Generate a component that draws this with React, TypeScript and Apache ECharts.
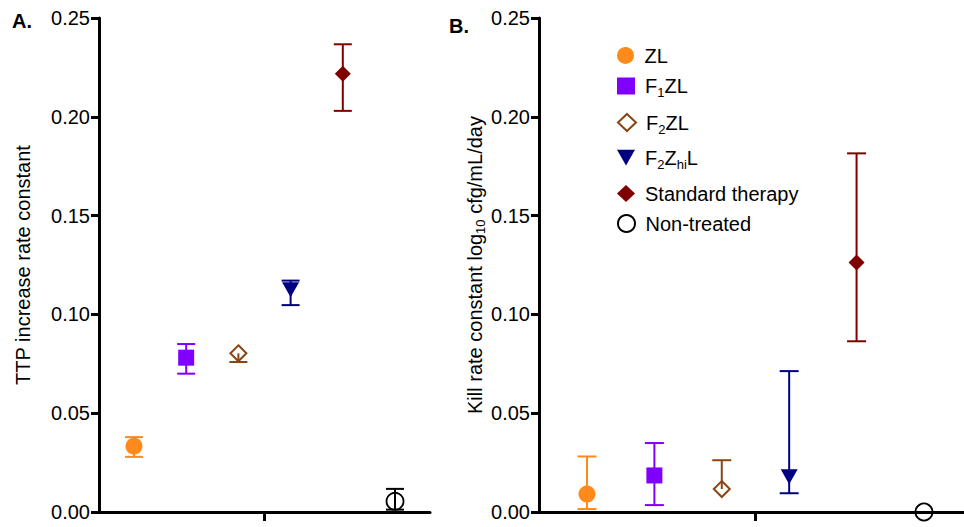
import React, { useEffect, useRef } from "react";
import * as echarts from "echarts";

const categories = ["ZL", "F1ZL", "F2ZL", "F2ZhiL", "Standard therapy", "Non-treated"];
const xPositions = [1, 2, 3, 4, 5, 6];

const ttpMean = [0.0333, 0.0781, 0.0803, 0.1125, 0.2218, 0.0054];
const ttpLow = [0.0279, 0.07, 0.0759, 0.1047, 0.203, 0.0012];
const ttpHigh = [0.0379, 0.085, 0.0803, 0.1171, 0.2367, 0.0117];

const killMean = [0.0091, 0.0185, 0.0116, 0.0178, 0.1263, 0.0];
const killLow = [0.0015, 0.0035, 0.0116, 0.0095, 0.0864, 0.0];
const killHigh = [0.0281, 0.0349, 0.0262, 0.0713, 0.1815, 0.0];

const yTicks = [0, 0.05, 0.1, 0.15, 0.2, 0.25];

const colors = ["#FF8A1C", "#8000FF", "#8B4513", "#000080", "#800000", "#000000"];
const FONT = "'Liberation Sans', Arial, Helvetica, sans-serif";
const legendRowTops = [45.5, 76, 112.5, 147.5, 183.5, 213.5];

const legendLabels: Record<string, string> = {
  ZL: "{n|ZL}",
  F1ZL: "{n|F}{s|1}{n|ZL}",
  F2ZL: "{n|F}{s|2}{n|ZL}",
  F2ZhiL: "{n|F}{s|2}{n|Z}{s|hi}{n|L}",
  "Standard therapy": "{n|Standard therapy}",
  "Non-treated": "{n|Non-treated}",
};

const TRI_DOWN = "path://M0,0L20,0L10,17.5Z";

function markerStyle(i: number) {
  const c = colors[i];
  const base: any = { symbol: "circle", symbolSize: 17, symbolRotate: 0, itemStyle: { color: c, opacity: 1 } };
  if (i === 1) { base.symbol = "rect"; base.symbolSize = 16; }
  if (i === 2) {
    base.symbol = "diamond"; base.symbolSize = 16;
    base.itemStyle = { color: "rgba(0,0,0,0)", borderColor: c, borderWidth: 2, opacity: 1 };
  }
  if (i === 3) { base.symbol = TRI_DOWN; base.symbolSize = [17, 15]; }
  if (i === 4) { base.symbol = "diamond"; base.symbolSize = 16; }
  if (i === 5) {
    base.symbol = "circle"; base.symbolSize = 17;
    base.itemStyle = { color: "rgba(0,0,0,0)", borderColor: c, borderWidth: 1.8, opacity: 1 };
  }
  return base;
}

function errorRender(capHalf: number) {
  return (params: any, api: any) => {
    const x = api.value(0);
    const m = api.value(1);
    const lo = api.value(2);
    const hi = api.value(3);
    const color = colors[params.dataIndex];
    const pLo = api.coord([x, lo]);
    const pHi = api.coord([x, hi]);
    const style = { stroke: color, lineWidth: 2, fill: "none" };
    const children: any[] = [];
    if (hi > lo) {
      children.push({ type: "line", shape: { x1: pLo[0], y1: pLo[1], x2: pHi[0], y2: pHi[1] }, style });
    }
    if (lo < m) {
      children.push({ type: "line", shape: { x1: pLo[0] - capHalf, y1: pLo[1], x2: pLo[0] + capHalf, y2: pLo[1] }, style });
    }
    if (hi > m) {
      children.push({ type: "line", shape: { x1: pHi[0] - capHalf, y1: pHi[1], x2: pHi[0] + capHalf, y2: pHi[1] }, style });
    }
    return { type: "group", children };
  };
}

function yAxisCommon(gridIndex: number) {
  return {
    type: "value",
    gridIndex,
    min: 0,
    max: 0.25,
    interval: 0.05,
    nameLocation: "middle",
    nameRotate: 90,
    axisLine: { show: true, lineStyle: { color: "#000", width: 3 } },
    axisTick: { show: true, inside: false, length: 8, lineStyle: { color: "#000", width: 3 } },
    axisLabel: {
      color: "#000",
      fontSize: 20,
      fontFamily: FONT,
      margin: 9,
      formatter: (v: number) => v.toFixed(2),
      customValues: yTicks,
    },
    splitLine: { show: false },
  };
}

function xAxisCommon(gridIndex: number, min: number, max: number) {
  return {
    type: "value",
    gridIndex,
    min,
    max,
    axisLine: { show: true, onZero: false, lineStyle: { color: "#000", width: 3 } },
    axisTick: { show: true, length: 9, lineStyle: { color: "#000", width: 3 }, customValues: [3.5] },
    axisLabel: { show: false },
    splitLine: { show: false },
  };
}

export default function App() {
  const ref = useRef<HTMLDivElement>(null);
  useEffect(() => {
    document.body.style.margin = "0";
    if (!ref.current) return;
    const chart = echarts.init(ref.current, undefined, { renderer: "svg" });

    const series: any[] = [];
    const panels = [
      { mean: ttpMean, low: ttpLow, high: ttpHigh, cap: 9 },
      { mean: killMean, low: killLow, high: killHigh, cap: 9.5 },
    ];
    panels.forEach((p, gi) => {
      series.push({
        type: "custom",
        name: "err" + gi,
        xAxisIndex: gi,
        yAxisIndex: gi,
        z: 1,
        clip: false,
        renderItem: errorRender(p.cap),
        encode: { x: 0, y: [1, 2, 3] },
        data: xPositions.map((x, i) => [x, p.mean[i], p.low[i], p.high[i]]),
      });
      categories.forEach((name, i) => {
        const ms = markerStyle(i);
        series.push({
          type: "scatter",
          name,
          xAxisIndex: gi,
          yAxisIndex: gi,
          z: 3,
          clip: false,
          ...ms,
          data: [[xPositions[i], p.mean[i]]],
        });
      });
    });

    const legends = categories.map((name, i) => ({
      orient: "vertical",
      left: 617,
      top: legendRowTops[i],
      padding: 0,
      itemWidth: 18,
      itemHeight: 17,
      selectedMode: false,
      data: [{ name, icon: markerStyle(i).symbol }],
      formatter: (n: string) => legendLabels[n],
      textStyle: {
        color: "#000",
        fontFamily: FONT,
        padding: [0, 0, 0, 5],
        rich: {
          n: { fontSize: 20, lineHeight: 26, color: "#000", fontFamily: FONT },
          s: { fontSize: 13, lineHeight: 14, verticalAlign: "bottom", color: "#000", fontFamily: FONT },
        },
      },
    }));

    chart.setOption({
      animation: false,
      textStyle: { fontFamily: FONT },
      grid: [
        { left: 99, top: 18, width: 331, bottom: 15 },
        { left: 539, top: 18, right: 0, bottom: 15 },
      ],
      xAxis: [xAxisCommon(0, 0.33, 6.67), xAxisCommon(1, 0.288, 6.594)],
      yAxis: [
        {
          ...yAxisCommon(0),
          name: "TTP increase rate constant",
          nameGap: 66,
          nameTextStyle: { color: "#000", fontSize: 20, fontFamily: FONT },
        },
        {
          ...yAxisCommon(1),
          name: "{n|Kill rate constant log}{s|10}{n| cfg/mL/day}",
          nameGap: 52,
          nameTextStyle: {
            color: "#000",
            fontFamily: FONT,
            rich: {
              n: { fontSize: 20, lineHeight: 24, color: "#000", fontFamily: FONT },
              s: { fontSize: 13, lineHeight: 13, verticalAlign: "bottom", color: "#000", fontFamily: FONT },
            },
          },
        },
      ],
      legend: legends,
      graphic: [
        { type: "text", left: 12, top: 11, style: { text: "A.", fontSize: 20, fontWeight: "bold", fill: "#000", fontFamily: FONT } },
        { type: "text", left: 449, top: 16, style: { text: "B.", fontSize: 20, fontWeight: "bold", fill: "#000", fontFamily: FONT } },
      ],
      series,
    });
    return () => chart.dispose();
  }, []);
  return <div ref={ref} style={{ width: 964, height: 527 }} />;
}
